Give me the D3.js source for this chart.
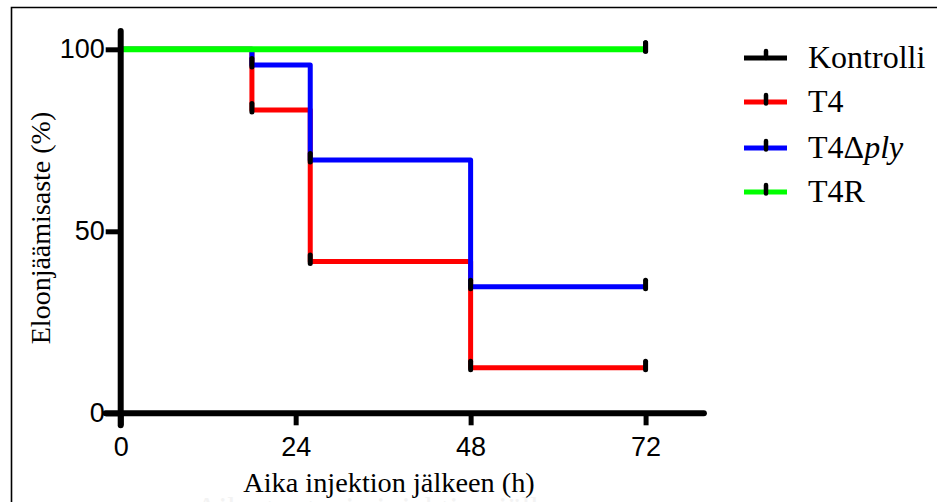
<!DOCTYPE html>
<html>
<head>
<meta charset="utf-8">
<script src="https://cdn.jsdelivr.net/npm/d3@7"></script>
<style>
  body { margin: 0; background: #fff; }
  svg { display: block; }
  .serif { font-family: "Liberation Serif", "DejaVu Serif", "Times New Roman", serif; }
  .sans { font-family: "Liberation Sans", Arimo, Arial, sans-serif; }
</style>
</head>
<body>
<svg id="chart" width="937" height="502"></svg>
<script>
// survival data (hours, % alive)
const seriesNames = ["Kontrolli", "T4", "T4Δply", "T4R"];
const seriesColors = ["#000000", "#ff0000", "#0000ff", "#00ff00"];

const kontrolliTimes = [0, 72];
const kontrolliSurv = [100, 100];
const t4Times = [0, 18, 26, 48, 72];
const t4Surv = [100, 83.3, 41.7, 12.5, 12.5];
const t4plyTimes = [0, 18, 26, 48, 72];
const t4plySurv = [100, 95.7, 69.6, 34.8, 34.8];
const t4rTimes = [0, 72];
const t4rSurv = [100, 100];

// censor tick marks (hours, %)
const t4Ticks = [[18, 83.3], [26, 41.7], [48, 12.5], [72, 12.5]];
const t4plyTicks = [[18, 95.7], [26, 69.6], [48, 34.8], [72, 34.8]];
const t4rTicks = [[72, 100]];
const kontrolliTicks = [[72, 100]];

const xTicks = [0, 24, 48, 72];
const yTicks = [0, 50, 100];

const svg = d3.select("#chart");

// image frame (top and left edge)
svg.append("path")
   .attr("d", "M11.5,502 V7.5 H937")
   .attr("fill", "none")
   .attr("stroke", "#000")
   .attr("stroke-width", 1.6);

const x = d3.scaleLinear().domain([0, 80]).range([120.7, 120.7 + 80 * 7.29]);
const y = d3.scaleLinear().domain([0, 105]).range([413.3, 413.3 - 105 * 3.64]);

// faint leftover text below the axis title
svg.append("text")
   .attr("class", "serif")
   .attr("x", 393).attr("y", 519)
   .attr("text-anchor", "middle")
   .attr("font-size", 32)
   .attr("fill", "#f3f3f3")
   .text("Aika tuntenia injektion jälkeen");

const series = [
    { name: seriesNames[0], color: seriesColors[0], width: 3, pts: d3.zip(kontrolliTimes, kontrolliSurv), ticks: kontrolliTicks },
    { name: seriesNames[1], color: seriesColors[1], width: 5, pts: d3.zip(t4Times, t4Surv), ticks: t4Ticks },
    { name: seriesNames[2], color: seriesColors[2], width: 5, pts: d3.zip(t4plyTimes, t4plySurv), ticks: t4plyTicks },
    { name: seriesNames[3], color: seriesColors[3], width: 6, pts: d3.zip(t4rTimes, t4rSurv), ticks: t4rTicks }
];

const step = d3.line()
    .x(d => x(d[0]))
    .y(d => y(d[1]))
    .curve(d3.curveStepAfter);

// step lines
svg.append("g").selectAll("path")
   .data(series)
   .join("path")
   .attr("d", d => step(d.pts))
   .attr("fill", "none")
   .attr("stroke", d => d.color)
   .attr("stroke-width", d => d.width)
   .attr("stroke-linejoin", "round");

// axes
const yAxis = d3.axisLeft(y).tickValues(yTicks).tickSize(15).tickPadding(1);
const xAxis = d3.axisBottom(x).tickValues(xTicks).tickSize(12).tickPadding(12);

const gy = svg.append("g")
    .attr("transform", `translate(${x(0)},0)`)
    .call(yAxis);
const gx = svg.append("g")
    .attr("transform", `translate(0,${y(0)})`)
    .call(xAxis);

[gx, gy].forEach(g => {
    g.attr("font-family", null).attr("font-size", null);
    g.select(".domain").remove();
    g.selectAll(".tick line").attr("stroke", "#000").attr("stroke-width", 5);
    g.selectAll(".tick text")
     .attr("class", "sans")
     .attr("font-size", 27)
     .attr("fill", "#000");
});

// axis lines drawn by hand so they get round ends
svg.append("line")
   .attr("x1", x(0)).attr("x2", x(0))
   .attr("y1", y(0) + 12).attr("y2", y(105))
   .attr("stroke", "#000").attr("stroke-width", 6).attr("stroke-linecap", "round");
svg.append("line")
   .attr("x1", x(0) - 15).attr("x2", x(80))
   .attr("y1", y(0)).attr("y2", y(0))
   .attr("stroke", "#000").attr("stroke-width", 6).attr("stroke-linecap", "round");

// censor marks
const marks = svg.append("g");
series.forEach(s => {
    marks.selectAll(null)
         .data(s.ticks)
         .join("line")
         .attr("x1", d => x(d[0])).attr("x2", d => x(d[0]))
         .attr("y1", d => y(d[1]) - 6.5).attr("y2", d => y(d[1]) + 2)
         .attr("stroke", "#000")
         .attr("stroke-width", 5)
         .attr("stroke-linecap", "round");
});

// axis titles
svg.append("text")
   .attr("class", "serif")
   .attr("transform", "translate(50,228) rotate(-90)")
   .attr("text-anchor", "middle")
   .attr("font-size", 28)
   .text("Eloonjäämisaste (%)");

svg.append("text")
   .attr("class", "serif")
   .attr("x", 389).attr("y", 492)
   .attr("text-anchor", "middle")
   .attr("font-size", 28.3)
   .text("Aika injektion jälkeen (h)");

// legend
const legend = svg.append("g").attr("transform", "translate(744,0)");
const rowY = [58, 102, 148, 192];

series.forEach((s, i) => {
    const row = legend.append("g").attr("transform", `translate(0,${rowY[i]})`);
    row.append("line")
       .attr("x1", 0).attr("x2", 43)
       .attr("stroke", s.color)
       .attr("stroke-width", 5);
    if (i === 0) {
        row.append("line")
           .attr("x1", 22).attr("x2", 22)
           .attr("y1", 0).attr("y2", -7)
           .attr("stroke", "#000").attr("stroke-width", 4.5).attr("stroke-linecap", "round");
    } else {
        row.append("line")
           .attr("x1", 22).attr("x2", 22)
           .attr("y1", -7).attr("y2", 1.5)
           .attr("stroke", "#000").attr("stroke-width", 4.5).attr("stroke-linecap", "round");
    }
    const txt = row.append("text")
       .attr("class", "serif")
       .attr("x", 64).attr("y", 10)
       .attr("font-size", 32)
       .attr("fill", "#000");
    if (s.name === "T4Δply") {
        txt.append("tspan").text("T4Δ");
        txt.append("tspan").attr("font-style", "italic").text("ply");
    } else {
        txt.text(s.name);
    }
});
</script>
</body>
</html>
